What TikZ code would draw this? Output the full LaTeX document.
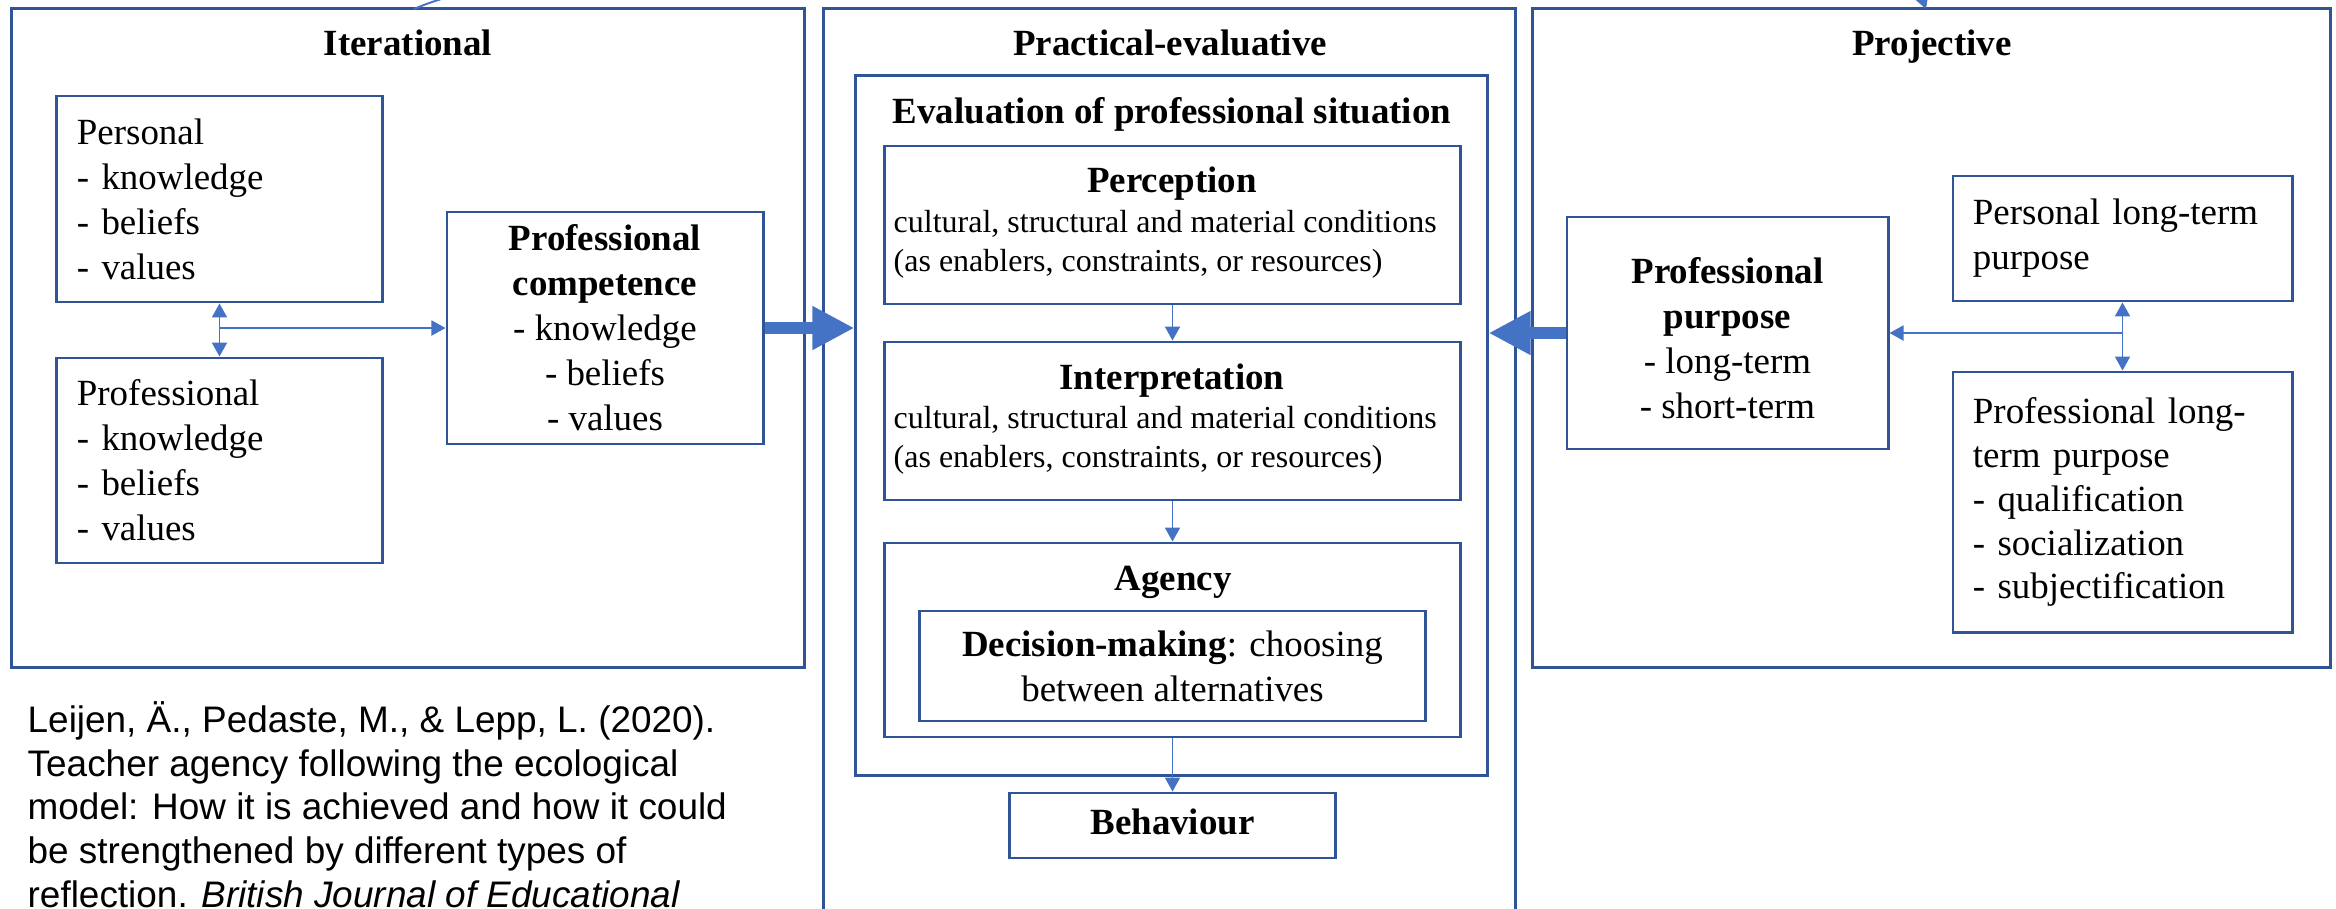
\documentclass[tikz,border=0pt]{standalone}
\usepackage{fontspec}
\setmainfont{Liberation Serif}
\setsansfont{Liberation Sans}
\usetikzlibrary{arrows.meta,positioning}
\definecolor{boxblue}{RGB}{47,85,151}
\definecolor{arrowblue}{RGB}{68,114,196}
\newcommand{\mainsize}{\fontsize{10.5pt}{12.8pt}\selectfont}
\newcommand{\condsize}{\fontsize{9.1pt}{11pt}\selectfont}
\newcommand{\refsize}{\fontsize{10.5pt}{12.4pt}\selectfont}
\begin{document}
\begin{tikzpicture}[x=0.01cm,y=-0.01cm]
  \tikzstyle{frame}=[draw=boxblue,line width=0.8pt,inner sep=0pt]
  \tikzstyle{listbox}=[frame,font=\mainsize,align=left,inner xsep=0.2cm,text width=2.85cm]
  \tikzstyle{centerbox}=[frame,font=\mainsize,align=center]
  \tikzstyle{heading}=[font=\mainsize\bfseries,inner sep=0pt,anchor=base]
  \tikzstyle{cond}=[font=\condsize,align=left,inner sep=0pt]
  \tikzstyle{link}=[draw=arrowblue,line width=0.55pt,-{Triangle[width=0.15cm,length=0.14cm]}]
  \tikzstyle{twoway}=[link,{Triangle[width=0.15cm,length=0.14cm]}-{Triangle[width=0.15cm,length=0.14cm]}]
  \tikzstyle{fat}=[draw=arrowblue,line width=0.12cm,-{Triangle[width=0.41cm,length=0.42cm]}]
  \useasboundingbox (0,0) rectangle (2336,908);
  \clip (0,0) rectangle (2336,908);
  % three dimensions
  \node[frame,minimum width=7.92cm,minimum height=6.58cm] (iter) at (408,338) {};
  \node[frame,minimum width=6.91cm,minimum height=9.91cm] (prac) at (1169.5,504.5) {};
  \node[frame,minimum width=7.97cm,minimum height=6.58cm] (proj) at (1931.5,338) {};
  \node[heading] (itertitle) at (408,55) {Iterational};
  \node[heading] (practitle) at (1170,55) {Practical-evaluative};
  \node[heading] (projtitle) at (1932,55) {Projective};
  % iterational
  \node[listbox,minimum height=2.06cm] (pers) at (219.5,199) {Personal\\- knowledge\\- beliefs\\- values};
  \node[listbox,minimum height=2.05cm] (prof) at (219.5,460.5) {Professional\\- knowledge\\- beliefs\\- values};
  \node[centerbox,minimum width=3.16cm,minimum height=2.32cm] (comp) at (605,328) {\textbf{Professional}\\\textbf{competence}\\- knowledge\\- beliefs\\- values};
  \coordinate (split) at (219.5,328);
  \draw[twoway] (pers) -- (prof);
  \draw[link] (split) -- (comp);
  % practical-evaluative
  \node[frame,minimum width=6.31cm,minimum height=6.99cm] (eval) at (1171.5,425.5) {};
  \node[heading] (evaltitle) at (1172,123) {Evaluation of professional situation};
  \node[frame,minimum width=5.75cm,minimum height=1.58cm] (perc) at (1172.5,225) {};
  \node[heading] (perctitle) at (1172,192) {Perception};
  \node[cond,anchor=west] (perctext) at (893,244) {cultural, structural and material conditions\\(as enablers, constraints, or resources)};
  \node[frame,minimum width=5.75cm,minimum height=1.58cm] (interp) at (1172.5,421) {};
  \node[heading] (interptitle) at (1172,389) {Interpretation};
  \node[cond,anchor=west] (interptext) at (893,440) {cultural, structural and material conditions\\(as enablers, constraints, or resources)};
  \node[frame,minimum width=5.75cm,minimum height=1.94cm] (agen) at (1172.5,640) {};
  \node[heading] (agentitle) at (1173,590) {Agency};
  \node[centerbox,minimum width=5.05cm,minimum height=1.10cm] (deci) at (1172.5,666) {\textbf{Decision-making}: choosing\\between alternatives};
  \node[centerbox,minimum width=3.26cm,minimum height=0.65cm,text depth=0.08cm] (behav) at (1172.5,825.5) {\textbf{Behaviour}};
  \draw[link] (perc) -- (interp);
  \draw[link] (interp) -- (agen);
  \draw[link] (agen) -- (behav);
  % projective
  \node[frame,minimum width=3.21cm,minimum height=2.32cm] (purp) at (1727.5,333) {};
  \node[font=\mainsize,align=center,inner sep=0pt] (purptext) at (1727.5,338) {\textbf{Professional}\\\textbf{purpose}\\- long-term\\- short-term};
  \node[listbox,text width=2.99cm,minimum height=1.25cm] (perslong) at (2122.5,238.5) {Personal long-term\\purpose};
  \node[listbox,text width=2.99cm,minimum height=2.60cm,font=\fontsize{10.5pt}{12.5pt}\selectfont] (proflong) at (2122.5,502) {Professional long-\\term purpose\\- qualification\\- socialization\\- subjectification};
  \coordinate (join) at (2122.5,333);
  \draw[twoway] (perslong) -- (proflong);
  \draw[link] (join) -- (purp);
  % into the evaluation
  \draw[fat] (comp) -- (comp -| eval.west);
  \draw[fat] (purp) -- (purp -| eval.east);
  % loop over the top
  \coordinate (iterexit) at (414,9);
  \coordinate (projentry) at (1926,9);
  \draw[link] (iterexit) .. controls (640,-90) and (1890,-90) .. (projentry);
  % source
  \node[font=\sffamily\refsize,align=left,anchor=base west,inner sep=0pt] (cite) at (27,907) {Leijen, Ä., Pedaste, M., \& Lepp, L. (2020).\\Teacher agency following the ecological\\model: How it is achieved and how it could\\be strengthened by different types of\\reflection. \textit{British Journal of Educational}};
\end{tikzpicture}
\end{document}
